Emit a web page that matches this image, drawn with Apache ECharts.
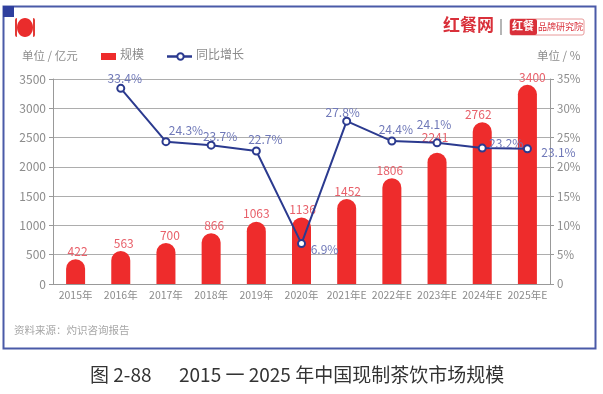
<!DOCTYPE html>
<html><head><meta charset="utf-8">
<style>html,body{margin:0;padding:0;background:#fff}#c{width:603px;height:394px}</style>
<script src="https://cdn.jsdelivr.net/npm/echarts@6/dist/echarts.min.js"></script>
</head><body><div id="c"></div>
<script>
const categories = ['2015年','2016年','2017年','2018年','2019年','2020年','2021年E','2022年E','2023年E','2024年E','2025年E'];
const scaleValues = [422,563,700,866,1063,1136,1452,1806,2241,2762,3400];
const growthValues = [null,33.4,24.3,23.7,22.7,6.9,27.8,24.4,24.1,23.2,23.1];
const leftTicks = [0,500,1000,1500,2000,2500,3000,3500];
const rightTicks = [0,5,10,15,20,25,30,35];

const font = '"Noto Sans CJK SC","Noto Sans",sans-serif';
const growthLabelOffsets = [[0,0],[4,6],[20,4],[9,7],[9,4],[23,21],[-4,7],[4,4],[-3,-3],[24,11],[31,19]];
const scaleLabelOffsets = [[2,0],[3,0],[4,0],[3,0],[0,0],[1,0],[1,0],[-2,0],[-2,-7],[-4,0],[5,1]];
const chart = echarts.init(document.getElementById('c'), null, {renderer:'canvas'});
const grey = '#8c8c8c', navy = '#2b3a8f', red = '#ee2c2c';

chart.setOption({
  animation:false,
  backgroundColor:'#fff',
  textStyle:{fontFamily:font},
  legend:{show:false},
  grid:{left:53,right:53,top:79,bottom:110,containLabel:false},
  xAxis:{type:'category',data:categories,
    axisLine:{lineStyle:{color:'#999',width:1}},axisTick:{show:false},
    axisLabel:{color:grey,fontSize:10.5,margin:6,interval:0,fontFamily:font}},
  yAxis:[
    {type:'value',min:leftTicks[0],max:leftTicks[leftTicks.length-1],interval:leftTicks[1]-leftTicks[0],
      axisLine:{show:true,lineStyle:{color:'#999'}},axisTick:{show:true,length:4,lineStyle:{color:'#999'}},
      axisLabel:{color:grey,fontSize:12,margin:7,fontFamily:font,formatter:v=>String(v)},
      splitLine:{show:true,lineStyle:{color:'#adadad',width:1}}},
    {type:'value',min:rightTicks[0],max:rightTicks[rightTicks.length-1],interval:rightTicks[1]-rightTicks[0],
      axisLine:{show:true,lineStyle:{color:'#999'}},axisTick:{show:true,length:4,lineStyle:{color:'#999'}},
      axisLabel:{color:grey,fontSize:11.5,margin:7,fontFamily:font,formatter:v=>v===0?'0':v+'%'},
      splitLine:{show:false}}
  ],
  series:[
    {type:'bar',data:scaleValues,barWidth:19,itemStyle:{color:red,borderRadius:[9.5,9.5,0,0]},
      label:{show:true,position:'top',distance:2,color:'#e8606a',fontSize:12,fontFamily:font},
      labelLayout:p=>{const o=scaleLabelOffsets[p.dataIndex];return {dx:o[0],dy:o[1]};}},
    {type:'line',yAxisIndex:1,data:growthValues,z:5,connectNulls:false,
      lineStyle:{color:navy,width:2},symbol:'circle',symbolSize:7,
      itemStyle:{color:'#fff',borderColor:navy,borderWidth:2},
      label:{show:true,position:'top',distance:5,color:'#6f78b8',fontSize:12,fontFamily:font,
        formatter:p=>p.value==null?'':p.value.toFixed(1)+'%'},
      labelLayout:p=>{const o=growthLabelOffsets[p.dataIndex];return {dx:o[0],dy:o[1]};}}
  ],
  graphic:[
    {type:'rect',silent:true,shape:{x:3.5,y:6.5,width:592,height:342},style:{fill:'none',stroke:'#4a5aa8',lineWidth:2}},
    {type:'rect',silent:true,shape:{x:3,y:6,width:11,height:11},style:{fill:'#2f3f9e'}},
    {type:'rect',silent:true,shape:{x:15,y:18,width:20,height:19,r:2},style:{fill:'#e23a36'}},
    {type:'rect',silent:true,shape:{x:17,y:18,width:16,height:19},style:{fill:'#fff'}},
    {type:'ellipse',silent:true,shape:{cx:25,cy:27.5,rx:8,ry:9.5},style:{fill:'#ea2c2c'}},
    {type:'text',silent:true,x:22,y:49.5,style:{text:'单位 / 亿元',fill:grey,fontSize:11.5,fontFamily:font}},
    {type:'rect',silent:true,shape:{x:101,y:53,width:15,height:7},style:{fill:red}},
    {type:'text',silent:true,x:120,y:48.5,style:{text:'规模',fill:grey,fontSize:12,fontFamily:font}},
    {type:'line',silent:true,shape:{x1:167,y1:56.5,x2:192,y2:56.5},style:{stroke:navy,lineWidth:2.5}},
    {type:'circle',silent:true,shape:{cx:180.5,cy:56.5,r:3.2},style:{fill:'#fff',stroke:navy,lineWidth:2}},
    {type:'text',silent:true,x:196,y:48.5,style:{text:'同比增长',fill:grey,fontSize:12,fontFamily:font}},
    {type:'text',silent:true,x:537,y:49.5,style:{text:'单位 / %',fill:grey,fontSize:11.5,fontFamily:font}},
    {type:'text',silent:true,x:443,y:16,style:{text:'红餐网',fill:'#d9303a',fontSize:17,fontWeight:'bold',fontFamily:font}},
    {type:'rect',silent:true,shape:{x:500,y:19,width:2,height:16},style:{fill:'#b5b5b5'}},
    {type:'rect',silent:true,shape:{x:510,y:19,width:74,height:16,r:2},style:{fill:'#fff',stroke:'#e89a9a',lineWidth:1}},
    {type:'rect',silent:true,shape:{x:510,y:19,width:27,height:16,r:2},style:{fill:'#d9303a'}},
    {type:'text',silent:true,x:512,y:20.5,style:{text:'红餐',fill:'#fff',fontSize:11,fontWeight:'bold',fontFamily:font}},
    {type:'text',silent:true,x:538,y:22,style:{text:'品牌研究院',fill:'#d9303a',fontSize:9,fontFamily:font}},
    {type:'text',silent:true,x:14,y:325,style:{text:'资料来源：灼识咨询报告',fill:'#a6a6a6',fontSize:10.5,fontFamily:font}},
    {type:'text',silent:true,x:90,y:365,style:{text:'图 2-88',fill:'#333',fontSize:19,fontFamily:font}},
    {type:'text',silent:true,x:179,y:365,style:{text:'2015 一 2025 年中国现制茶饮市场规模',fill:'#333',fontSize:19,fontFamily:font}}
  ]
});
</script></body></html>
